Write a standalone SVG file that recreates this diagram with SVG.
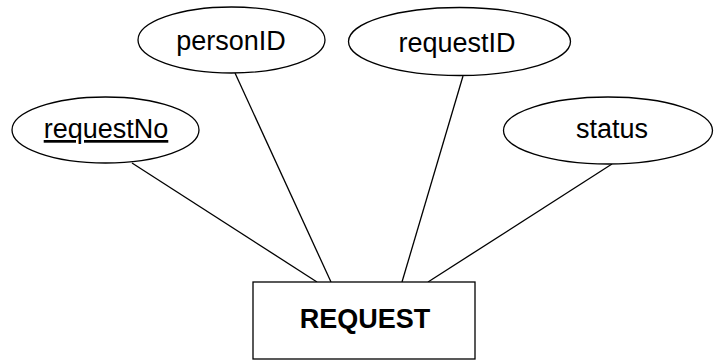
<svg xmlns="http://www.w3.org/2000/svg" width="714" height="360" viewBox="0 0 714 360">
<style>
.shape{fill:#fff;stroke:#000;stroke-width:1.3}
.conn line{stroke:#000;stroke-width:1.3}
.lbl{font-family:"Liberation Sans",Arial,sans-serif;font-size:27px;fill:#000;text-anchor:middle}
.bold{font-weight:bold}
</style>
<rect width="714" height="360" fill="#fff"/>
<g id="connectors" class="conn">
<line x1="132" y1="163" x2="317" y2="282"/>
<line x1="235" y1="73" x2="331" y2="282"/>
<line x1="463" y1="76" x2="402" y2="282"/>
<line x1="612" y1="164" x2="428" y2="282"/>
</g>
<g id="requestNo">
<ellipse class="shape" cx="105.5" cy="130" rx="93.5" ry="33"/>
<text class="lbl" x="106" y="138" text-decoration="underline">requestNo</text>
</g>
<g id="personID">
<ellipse class="shape" cx="231.5" cy="40" rx="93.5" ry="33"/>
<text class="lbl" x="231" y="50">personID</text>
</g>
<g id="requestID">
<ellipse class="shape" cx="459.5" cy="41.5" rx="111" ry="34"/>
<text class="lbl" x="457" y="52">requestID</text>
</g>
<g id="status">
<ellipse class="shape" cx="608" cy="130.5" rx="104.5" ry="33.5"/>
<text class="lbl" x="612" y="138">status</text>
</g>
<g id="REQUEST">
<rect class="shape" x="253" y="282" width="222" height="77"/>
<text class="lbl bold" x="365" y="328">REQUEST</text>
</g>
</svg>
